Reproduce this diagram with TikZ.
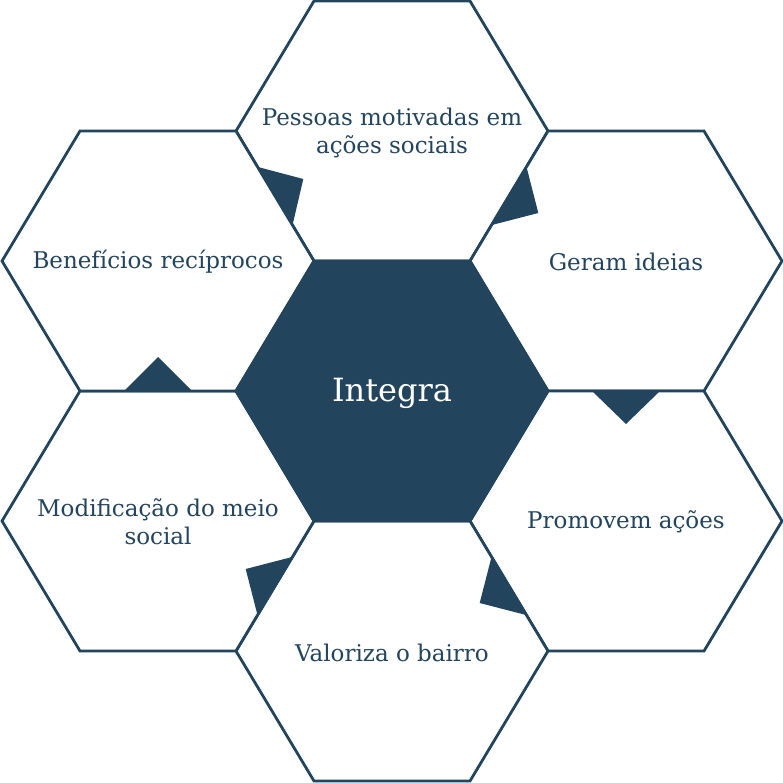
\documentclass[tikz,border=0pt]{standalone}
\usepackage{fontspec}
\setmainfont{DejaVu Serif}
\definecolor{hexblue}{HTML}{23445D}
\begin{document}
\begin{tikzpicture}[x=1pt,y=-1pt,
  hexst/.style={draw=hexblue,line width=2.8pt,fill=white,line join=miter},
  hexcore/.style={draw=hexblue,line width=2.8pt,fill=hexblue},
  tri/.style={fill=hexblue,draw=none},
  lbl/.style={text=hexblue,font=\fontsize{23}{28}\selectfont,align=center,inner sep=0pt},
  core/.style={text=white,font=\fontsize{32}{36}\selectfont,inner sep=0pt}]
\useasboundingbox (0,0) rectangle (783,783);
\coordinate (C) at (392,391);
\coordinate (T) at (392,131);
\coordinate (UR) at (626,261);
\coordinate (LR) at (626,521);
\coordinate (B) at (392,651);
\coordinate (LL) at (158,521);
\coordinate (UL) at (158,261);
\foreach \c in {T,UR,LR,B,LL,UL}{
  \draw[hexst] (\c) ++(-156,0) -- ++(78,-130) -- ++(156,0) -- ++(78,130) -- ++(-78,130) -- ++(-156,0) -- cycle;
}
\draw[hexcore] (C) ++(-156,0) -- ++(78,-130) -- ++(156,0) -- ++(78,130) -- ++(-78,130) -- ++(-156,0) -- cycle;
% triangles on shared edges
\fill[tri] (257.5,166.9) -- (303.3,179) -- (292.5,225.1) -- cycle;
\fill[tri] (526.5,166.9) -- (538.3,213) -- (491.5,225.1) -- cycle;
\fill[tri] (592,391) -- (626,424) -- (660,391) -- cycle;
\fill[tri] (491.5,556.9) -- (479.7,603) -- (526.5,615.1) -- cycle;
\fill[tri] (292.5,556.9) -- (245.7,569) -- (257.5,615.1) -- cycle;
\fill[tri] (124,391) -- (158,357) -- (192,391) -- cycle;
% labels
\node[core] (nC) at (392,393) {Integra};
\node[lbl] (nT) at (392,133) {Pessoas motivadas em\\ações sociais};
\node[lbl] (nUR) at (626,262) {Geram ideias};
\node[lbl] (nLR) at (626,522) {Promovem ações};
\node[lbl] (nB) at (392,653) {Valoriza o bairro};
\node[lbl] (nLL) at (158,522) {Modificação do meio\\social};
\node[lbl] (nUL) at (158,262) {Benefícios recíprocos};
\end{tikzpicture}
\end{document}
